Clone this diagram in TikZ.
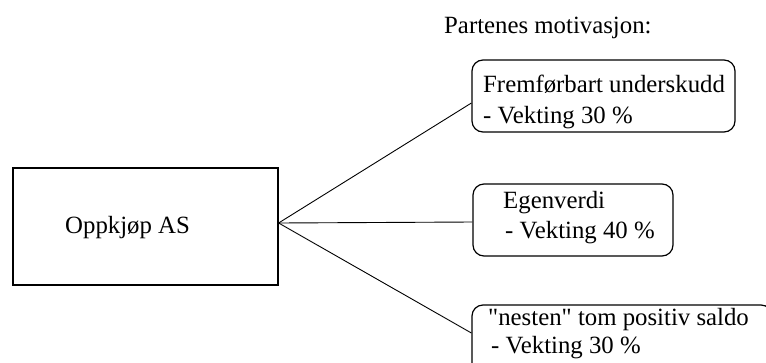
\documentclass[tikz,border=0pt]{standalone}
\usepackage{fontspec}
\setmainfont{Liberation Serif}
\begin{document}
\begin{tikzpicture}[x=1pt,y=-1pt,
  txt/.style={inner sep=0pt,anchor=base west,font=\fontsize{24.8}{30}\selectfont},
  motive/.style={draw,line width=1.2pt,rounded corners=11pt,minimum width=#1,minimum height=72pt,inner sep=0pt},
  company/.style={draw,line width=1.2pt,minimum width=265pt,minimum height=117pt,inner sep=0pt},
  link/.style={line width=0.9pt}]
  \useasboundingbox (0,0) rectangle (766,362);
  \clip (0,0) rectangle (766,362);

  % heading
  \node[txt] (head) at (444,33) {Partenes motivasjon:};

  % acquiring company
  \node[company] (main) at (145.5,226.5) {};
  \node[txt] (maintxt) at (65,233) {Oppkjøp AS};
  \coordinate (hub) at ([yshift=3.5pt]main.east);

  % motive boxes
  \node[motive=263pt] (m1) at (603.5,96) {};
  \node[txt] (m1a) at (483,92) {Fremførbart underskudd};
  \node[txt] (m1b) at (483,123) {- Vekting 30 \%};

  \node[motive=200pt] (m2) at (573,220) {};
  \node[txt] (m2a) at (503,208) {Egenverdi};
  \node[txt] (m2b) at (505,238) {- Vekting 40 \%};

  \node[motive=300pt] (m3) at (622,341) {};
  \node[txt] (m3a) at (488,325) {\textquotedbl nesten\textquotedbl{} tom positiv saldo};
  \node[txt] (m3b) at (491,353) {- Vekting 30 \%};

  % connectors
  \draw[link] (hub) -- ([yshift=-7pt]m1.west);
  \draw[link] (hub) -- ([yshift=-2pt]m2.west);
  \draw[link] (hub) -- ([yshift=8pt]m3.west);
\end{tikzpicture}
\end{document}
